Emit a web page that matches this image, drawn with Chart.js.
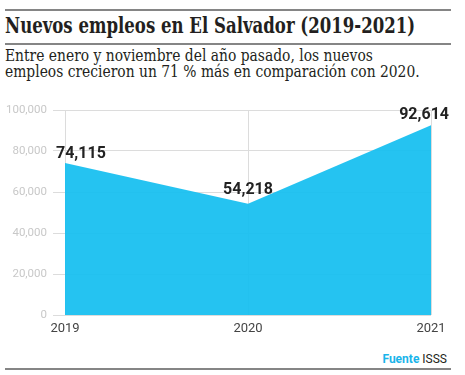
<!DOCTYPE html>
<html>
<head>
<meta charset="utf-8">
<script src="https://cdn.jsdelivr.net/npm/chart.js@4"></script>
<style>
  body { margin: 0; background: #fff; width: 465px; height: 375px; position: relative; overflow: hidden; }
  .rule { position: absolute; left: 5px; width: 446px; height: 2px; background: #858585; }
  #title { position: absolute; left: 5px; top: 12px; font: bold 22px "DejaVu Serif"; color: #231f20; white-space: nowrap; transform-origin: 0 0; }
  #sub { position: absolute; left: 5px; top: 48px; font: 16px "DejaVu Serif"; line-height: 16px; color: #231f20; white-space: nowrap; transform-origin: 0 0; }
  #wrap { position: absolute; left: 0; top: 95px; width: 465px; height: 250px; }
  #src { position: absolute; right: 18px; top: 352px; font: 12px Roboto; color: #231f20; }
  #src b { color: #19b4ea; }
</style>
</head>
<body>
<div class="rule" style="top:9px"></div>
<div id="title">Nuevos empleos en El Salvador (2019-2021)</div>
<div class="rule" style="top:43px"></div>
<div id="sub">Entre enero y noviembre del año pasado, los nuevos<br>empleos crecieron un 71 % más en comparación con 2020.</div>
<div id="wrap"><canvas id="c"></canvas></div>
<div id="src"><b>Fuente</b> ISSS</div>
<div class="rule" style="top:368px"></div>
<script>
const years = ["2019", "2020", "2021"];
const empleos = [74115, 54218, 92614];
const yTicks = [0, 20000, 40000, 60000, 80000, 100000];

const FILL = "rgba(23, 191, 240, 0.94)";

// squeeze the serif headings to the reference widths
function fitWidth(id, target) {
  const el = document.getElementById(id);
  el.style.transform = `scaleX(${target / el.offsetWidth})`;
}
fitWidth("title", 410);
fitWidth("sub", 415);

// value labels above each point (first left-aligned, last right-aligned)
const labelShift = [
  { align: "left", dx: -9, dy: -5 },
  { align: "center", dx: 0, dy: -10 },
  { align: "right", dx: 18, dy: -6 },
];
const valueLabels = {
  id: "valueLabels",
  afterDatasetsDraw(chart) {
    const { ctx } = chart;
    const meta = chart.getDatasetMeta(0);
    ctx.save();
    ctx.font = "bold 16px Roboto";
    ctx.fillStyle = "#222";
    ctx.textBaseline = "alphabetic";
    meta.data.forEach((pt, i) => {
      const s = labelShift[i];
      ctx.textAlign = s.align;
      ctx.fillText(empleos[i].toLocaleString("en-US"), pt.x + s.dx, pt.y + s.dy);
    });
    ctx.restore();
  },
};

new Chart(document.getElementById("c"), {
  type: "line",
  data: {
    labels: years,
    datasets: [
      {
        data: empleos,
        borderColor: FILL,
        backgroundColor: FILL,
        borderWidth: 0,
        fill: "origin",
        tension: 0,
        pointRadius: 0,
      },
    ],
  },
  options: {
    responsive: true,
    maintainAspectRatio: false,
    animation: false,
    layout: { padding: { top: 15, right: 34, left: 0, bottom: 0 } },
    plugins: { legend: { display: false }, tooltip: { enabled: false } },
    scales: {
      x: {
        offset: false,
        afterFit: (s) => { s.height = 30; },
        grid: { color: "#dcdcdc", drawTicks: false },
        border: { display: false },
        ticks: { color: "#444", font: { family: "Roboto", size: 13 }, padding: 6, maxRotation: 0 },
      },
      y: {
        min: 0,
        max: 100000,
        afterFit: (s) => { s.width = 65; },
        afterBuildTicks: (s) => { s.ticks = yTicks.map((v) => ({ value: v })); },
        grid: { color: "#dcdcdc", tickLength: 12 },
        border: { color: "#dcdcdc" },
        ticks: {
          color: "#c8c8c8",
          font: { family: "Roboto", size: 11.5 },
          padding: 6,
          callback: (v) => v.toLocaleString("en-US"),
        },
      },
    },
  },
  plugins: [valueLabels],
});
</script>
</body>
</html>
